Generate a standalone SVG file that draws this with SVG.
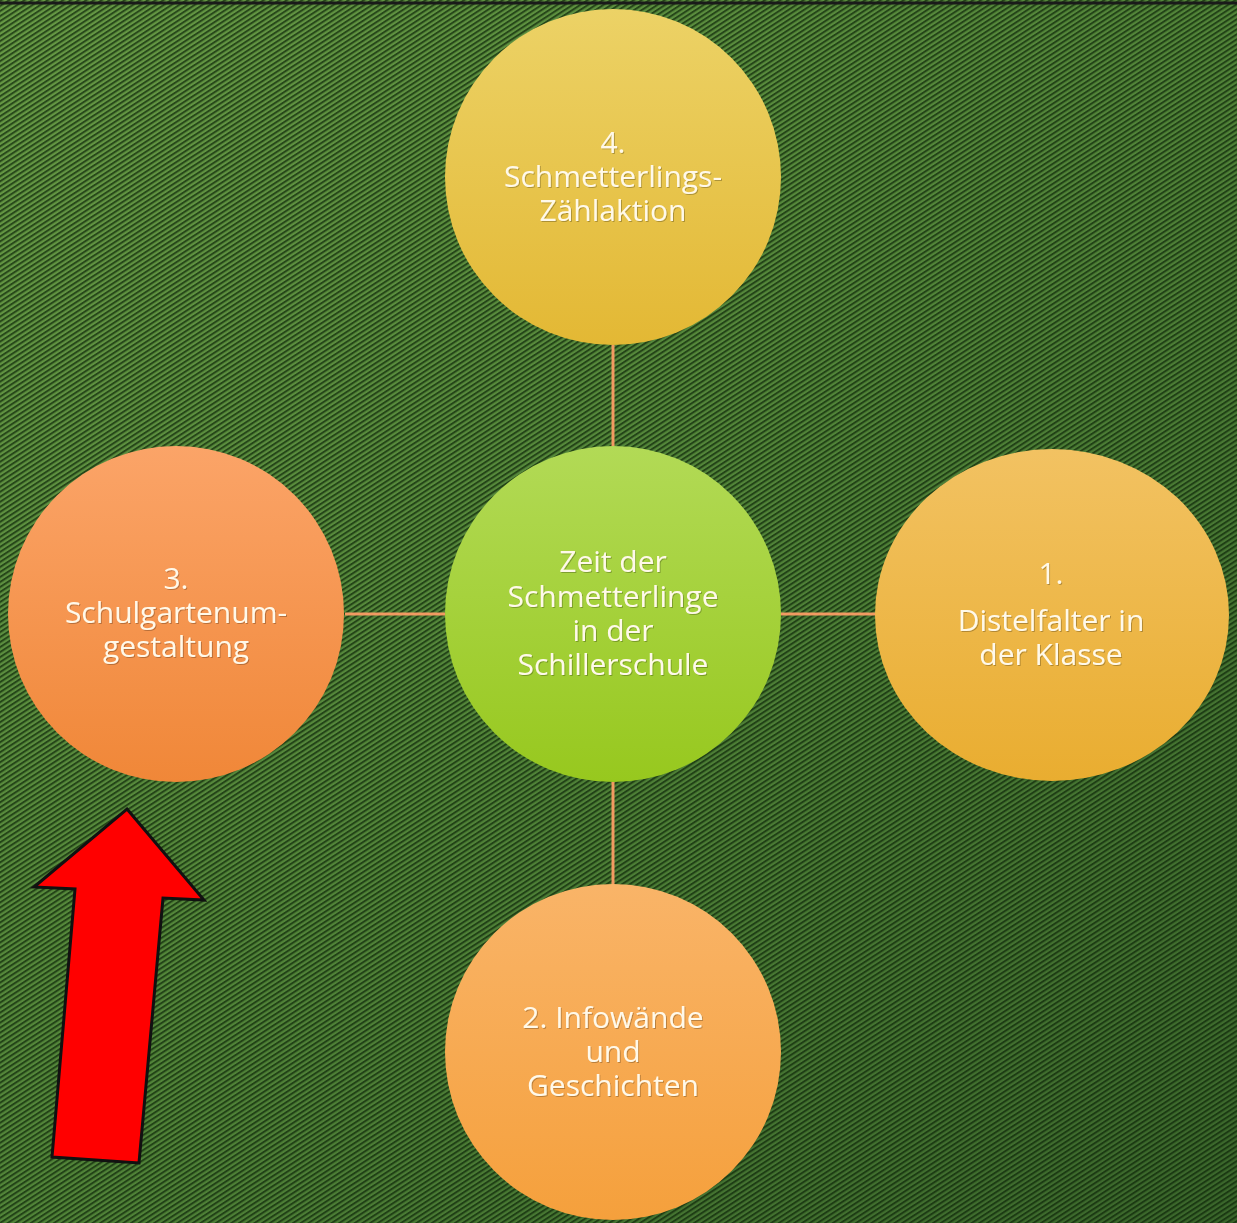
<svg xmlns="http://www.w3.org/2000/svg" width="1237" height="1223" viewBox="0 0 1237 1223">
<defs>
<linearGradient id="bg" x1="0" y1="0" x2="1" y2="1">
<stop offset="0" stop-color="#679a45"/>
<stop offset="0.5" stop-color="#528539"/>
<stop offset="1" stop-color="#3a662b"/>
</linearGradient>
<pattern id="stripes" patternUnits="userSpaceOnUse" width="8" height="4.2" patternTransform="rotate(-33)">
<rect x="0" y="0" width="8" height="2" fill="#0c2408" fill-opacity="0.68"/>
</pattern>
<linearGradient id="gTop" x1="0" y1="0" x2="0" y2="1">
<stop offset="0" stop-color="#ecd266"/>
<stop offset="1" stop-color="#e3b834"/>
</linearGradient>
<linearGradient id="gCenter" x1="0" y1="0" x2="0" y2="1">
<stop offset="0" stop-color="#b2da56"/>
<stop offset="1" stop-color="#97c81e"/>
</linearGradient>
<linearGradient id="gRight" x1="0" y1="0" x2="0" y2="1">
<stop offset="0" stop-color="#f2c262"/>
<stop offset="1" stop-color="#e9ad30"/>
</linearGradient>
<linearGradient id="gLeft" x1="0" y1="0" x2="0" y2="1">
<stop offset="0" stop-color="#fba468"/>
<stop offset="1" stop-color="#f08738"/>
</linearGradient>
<linearGradient id="gBottom" x1="0" y1="0" x2="0" y2="1">
<stop offset="0" stop-color="#f9b468"/>
<stop offset="1" stop-color="#f5a03c"/>
</linearGradient>
<filter id="ts" x="-10%" y="-10%" width="120%" height="130%">
<feDropShadow dx="1" dy="1" stdDeviation="0.6" flood-color="#000" flood-opacity="0.25"/>
</filter>
</defs>
<style>
.lbl { font-family: "Open Sans", "DejaVu Sans", sans-serif; font-size: 30px; fill: #fff9ea; text-anchor: middle; filter: url(#ts); }
.conn { stroke: #f29a62; stroke-width: 3; fill: none; }
</style>
<rect x="0" y="0" width="1237" height="1223" fill="url(#bg)"/>
<rect x="0" y="0" width="1237" height="1223" fill="url(#stripes)"/>
<line x1="0" y1="3" x2="1237" y2="3" stroke="#1a1a1a" stroke-width="3"/>
<g id="connectors">
<line class="conn" x1="613" y1="345" x2="613" y2="446"/>
<line class="conn" x1="345" y1="614" x2="445" y2="614"/>
<line class="conn" x1="781" y1="614" x2="876" y2="614"/>
<line class="conn" x1="613" y1="782" x2="613" y2="885"/>
</g>
<g id="node-center">
<circle cx="613" cy="614" r="168" fill="url(#gCenter)"/>
<text class="lbl" x="613" y="572">Zeit der</text>
<text class="lbl" x="613" y="607">Schmetterlinge</text>
<text class="lbl" x="613" y="641">in der</text>
<text class="lbl" x="613" y="675">Schillerschule</text>
</g>
<g id="node-4">
<circle cx="613" cy="177" r="168" fill="url(#gTop)"/>
<text class="lbl" x="613" y="153">4.</text>
<text class="lbl" x="613" y="187">Schmetterlings-</text>
<text class="lbl" x="613" y="221">Zählaktion</text>
</g>
<g id="node-1">
<ellipse cx="1052" cy="615" rx="177" ry="166" fill="url(#gRight)"/>
<text class="lbl" x="1051" y="584">1.</text>
<text class="lbl" x="1051" y="631">Distelfalter in</text>
<text class="lbl" x="1051" y="665">der Klasse</text>
</g>
<g id="node-3">
<circle cx="176" cy="614" r="168" fill="url(#gLeft)"/>
<text class="lbl" x="176" y="589">3.</text>
<text class="lbl" x="176" y="623">Schulgartenum-</text>
<text class="lbl" x="176" y="657">gestaltung</text>
</g>
<g id="node-2">
<circle cx="613" cy="1052" r="168" fill="url(#gBottom)"/>
<text class="lbl" x="613" y="1028">2. Infowände</text>
<text class="lbl" x="613" y="1062">und</text>
<text class="lbl" x="613" y="1096">Geschichten</text>
</g>
<g id="arrow">
<polygon points="127,809 204,900 163,898 139,1163 52,1157 75,889 34,887" fill="#ff0000" stroke="#111" stroke-width="3" stroke-linejoin="miter"/>
</g>
</svg>
